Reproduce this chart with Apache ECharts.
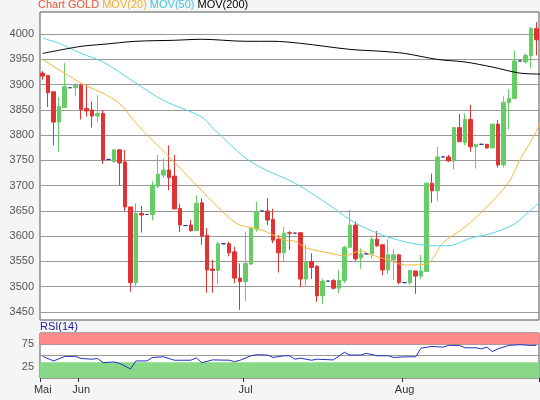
<!DOCTYPE html>
<html><head><meta charset="utf-8">
<script src="https://cdn.jsdelivr.net/npm/echarts@6/dist/echarts.min.js"></script>
<style>html,body{margin:0;padding:0;background:#f5f5f5}#c{width:540px;height:400px}</style>
</head><body><div id="c"></div>
<script>
// OHLC per bar
const opens  = [3923,3918,3886,3826,3855,3894,3894,3899,3853,3850,3838,3843,3752,3748,3771,3747,3658,3508,3645,3643,3643,3699,3721,3731,3719,3655,3621,3622,3611,3666,3602,3535,3532,3585,3585,3569,3517,3510,3545,3614,3650,3650,3633,3594,3567,3607,3606,3607,3515,3550,3540,3482,3511,3512,3497,3512,3578,3622,3557,3565,3565,3594,3583,3533,3553,3563,3508,3508,3531,3521,3530,3705,3690,3757,3757,3749,3815,3785,3831,3777,3782,3782,3775,3822,3741,3865,3873,3947,3945,3958,4011];
const closes = [3917,3884,3826,3857,3896,3894,3899,3851,3848,3838,3843,3751,3752,3771,3745,3658,3508,3645,3642,3643,3701,3723,3731,3716,3654,3622,3621,3611,3665,3600,3533,3532,3585,3585,3567,3517,3510,3546,3616,3648,3650,3632,3592,3567,3606,3606,3606,3515,3550,3538,3482,3511,3511,3497,3513,3578,3622,3555,3565,3565,3594,3581,3533,3563,3563,3508,3508,3532,3521,3531,3705,3690,3757,3757,3749,3815,3787,3831,3777,3782,3782,3775,3822,3741,3865,3873,3947,3947,3958,4011,3989];
const lows   = [3910,3856,3780,3767,3855,3894,3877,3831,3837,3815,3826,3743,3752,3745,3701,3650,3490,3499,3607,3643,3631,3695,3716,3691,3654,3608,3621,3609,3611,3583,3488,3488,3505,3585,3560,3507,3454,3472,3543,3609,3650,3622,3586,3528,3550,3573,3606,3499,3499,3515,3470,3465,3511,3494,3487,3507,3576,3550,3535,3565,3556,3579,3523,3525,3513,3505,3508,3503,3486,3515,3530,3666,3670,3757,3747,3732,3787,3780,3767,3734,3782,3773,3773,3736,3736,3811,3871,3947,3942,3932,3958];
const highs  = [3927,3918,3886,3876,3943,3894,3903,3902,3899,3867,3879,3850,3752,3772,3772,3771,3658,3665,3660,3643,3709,3761,3754,3780,3761,3664,3621,3632,3681,3675,3616,3553,3589,3585,3589,3579,3546,3609,3618,3668,3650,3675,3654,3602,3618,3610,3606,3607,3583,3566,3543,3515,3511,3515,3533,3581,3652,3629,3576,3565,3598,3610,3583,3594,3574,3565,3508,3533,3531,3563,3706,3724,3777,3757,3761,3815,3842,3843,3860,3782,3782,3782,3822,3830,3877,3891,3967,3947,3962,4014,4024];
const monthLabels = {0:'Mai',7:'Jun',37:'Jul',66:'Aug'};
const priceTicks = [3450,3500,3550,3600,3650,3700,3750,3800,3850,3900,3950,4000];
// moving averages: [barIndex, value]
const ma20  = [[0,3950],[7,3903],[11,3883],[14,3863],[17,3824],[20,3790],[23,3758],[28,3701],[34,3636],[36,3622],[40,3612],[44,3593],[46,3590],[48,3577],[53,3565],[55,3561],[58,3571],[60,3563],[63,3553],[66,3543],[70,3545],[73,3587],[77,3618],[81,3658],[85,3707],[87,3751],[90,3807],[91,3836]];
const ma50  = [[0,3992],[3,3982],[7,3962],[11,3945],[17,3903],[22,3869],[29,3836],[31,3814],[38,3747],[46,3705],[49,3685],[53,3656],[57,3626],[62,3602],[66,3589],[69,3583],[71,3581],[74,3581],[78,3596],[82,3606],[86,3624],[89,3652],[91,3670]];
const ma200 = [[0,3962],[7,3976],[11,3980],[17,3986],[24,3988],[29,3990],[37,3986],[42,3986],[47,3982],[56,3970],[62,3966],[66,3962],[72,3950],[77,3945],[82,3935],[87,3923],[91,3921]];
const rsi = [[0,47.9],[2,37.9],[4,47.9],[6,47.9],[7,43.3],[9,41.8],[10,43.3],[11,34.1],[13,35.6],[14,32.5],[16,20.3],[17,37.9],[19,37.9],[20,45.6],[22,47.1],[24,39.5],[27,39.5],[28,44.8],[29,34.1],[31,40.2],[34,39.5],[35,36.4],[36,39.5],[38,49.4],[39,51.7],[41,51.0],[42,45.6],[44,49.4],[45,49.4],[46,41.8],[47,44.0],[49,39.5],[50,41.8],[53,40.2],[55,57.1],[56,51.0],[58,51.0],[59,54.8],[61,49.4],[63,49.4],[64,45.6],[66,47.1],[68,47.1],[69,66.3],[71,70.2],[73,68.6],[74,72.5],[76,72.5],[77,67.1],[79,67.1],[80,64.8],[81,68.6],[82,58.7],[83,64.8],[85,72.5],[87,74.0],[89,72.5],[90,72.5]];

const cats = opens.map((_, i) => String(i));
const candles = opens.map((o, i) => {
  const d = {value: [o, closes[i], lows[i], highs[i]]};
  if (o === closes[i]) d.itemStyle = {color: '#333399', color0: '#333399', borderColor: '#333399', borderColor0: '#333399'};
  return d;
});
const chart = echarts.init(document.getElementById('c'));
const axisX = (gi, show) => ({
  type: 'category', gridIndex: gi, data: cats, boundaryGap: true,
  axisLine: {show: false}, axisTick: {show: show, length: 4, interval: (i) => i in monthLabels, lineStyle: {color: '#333'}},
  axisLabel: {show: show, interval: (i) => i in monthLabels, formatter: (v, i) => monthLabels[i] || '', color: '#333', fontSize: 11, fontFamily: 'Liberation Sans', margin: 6},
  splitLine: {show: false}
});
chart.setOption({
  animation: false,
  backgroundColor: '#f5f5f5',
  title: {
    left: 38, top: -1, padding: 0,
    text: '{a|Chart GOLD} {b|MOV(20)} {c|MOV(50)} {d|MOV(200)}',
    textStyle: {fontSize: 11, fontWeight: 'normal', fontFamily: 'Liberation Sans',
      rich: {a: {color: '#e05a3a', fontSize: 11}, b: {color: '#f0b030', fontSize: 11}, c: {color: '#40c8e0', fontSize: 11}, d: {color: '#000', fontSize: 11}}}
  },
  graphic: [{type: 'text', left: 40, top: 321, style: {text: 'RSI(14)', fill: '#1a1aaa', font: '11px Liberation Sans'}}],
  grid: [
    {left: 40, right: 1, top: 12, bottom: 80, show: true, backgroundColor: '#fff', borderColor: '#555', borderWidth: 1},
    {left: 40, right: 1, top: 333, bottom: 22, show: true, backgroundColor: '#fff', borderColor: '#555', borderWidth: 1}
  ],
  xAxis: [axisX(0, false), axisX(1, true)],
  yAxis: [
    {type: 'value', gridIndex: 0, min: 3434, max: 4044,
      axisLine: {show: false}, axisTick: {show: false, customValues: priceTicks},
      axisLabel: {customValues: priceTicks, formatter: (v) => String(v), color: '#555', fontSize: 11, fontFamily: 'Liberation Sans', margin: 6},
      splitLine: {show: true, lineStyle: {color: '#999'}}},
    {type: 'value', gridIndex: 1, min: 0, max: 100, interval: 25,
      axisLine: {show: false}, axisTick: {show: false},
      axisLabel: {formatter: (v) => (v === 25 || v === 75) ? String(v) : '', color: '#555', fontSize: 11, fontFamily: 'Liberation Sans', margin: 6},
      splitLine: {show: true, lineStyle: {color: '#999'}}}
  ],
  series: [
    {type: 'candlestick', xAxisIndex: 0, yAxisIndex: 0, data: candles, barWidth: 4,
      itemStyle: {color: '#66cc66', color0: '#e03333', borderColor: '#66cc66', borderColor0: '#e03333', borderWidth: 1}},
    {type: 'line', xAxisIndex: 0, yAxisIndex: 0, data: ma20, showSymbol: false, smooth: 0.3, lineStyle: {color: '#f5b73a', width: 1}},
    {type: 'line', xAxisIndex: 0, yAxisIndex: 0, data: ma50, showSymbol: false, smooth: 0.3, lineStyle: {color: '#55d4e8', width: 1}},
    {type: 'line', xAxisIndex: 0, yAxisIndex: 0, data: ma200, showSymbol: false, smooth: 0.3, lineStyle: {color: '#000', width: 1}},
    {type: 'line', xAxisIndex: 1, yAxisIndex: 1, data: rsi, showSymbol: false, lineStyle: {color: '#2233bb', width: 1}, z: 5,
      markArea: {silent: true, data: [
        [{yAxis: 75, itemStyle: {color: '#ff8a8a'}}, {yAxis: 100}],
        [{yAxis: 0, itemStyle: {color: '#88d888'}}, {yAxis: 35}]
      ]}}
  ]
});
</script></body></html>
